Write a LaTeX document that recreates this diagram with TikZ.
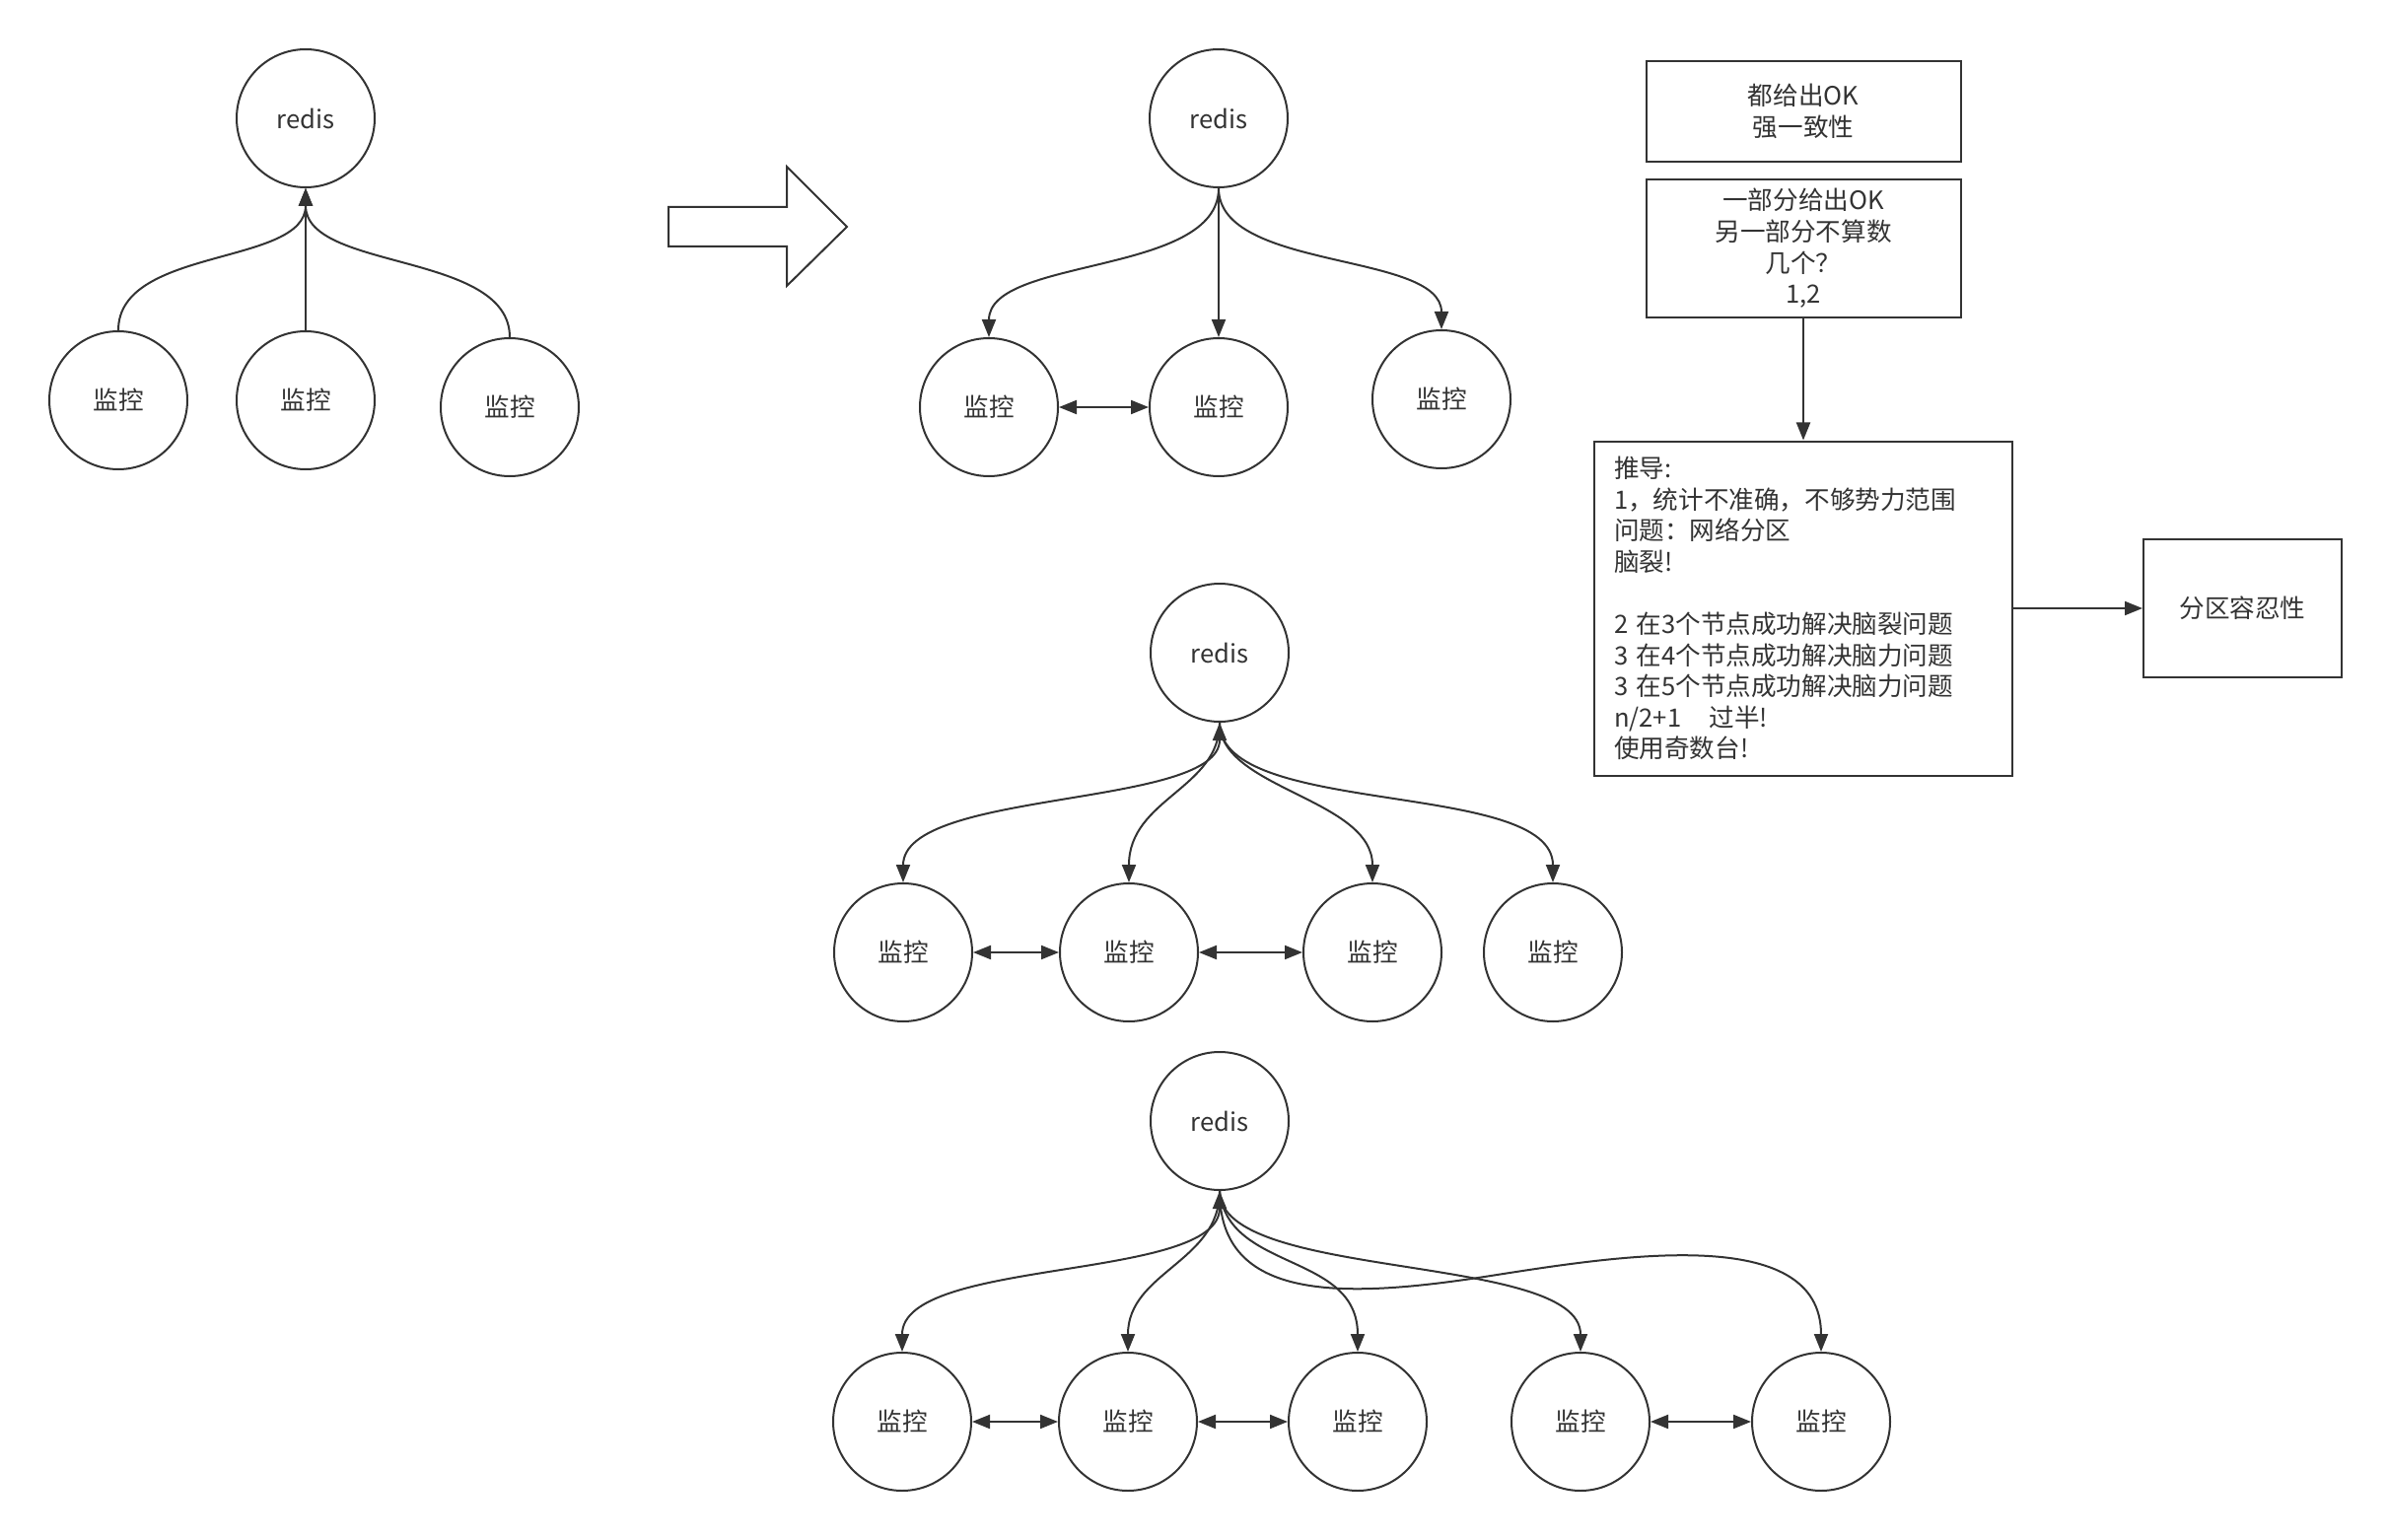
\documentclass[tikz,border=0pt]{standalone}
\usepackage{fontspec}
\setmainfont{Noto Sans CJK SC}
\usetikzlibrary{arrows.meta}
\definecolor{ink}{HTML}{333333}

\begin{document}
\begin{tikzpicture}[x=0.5pt,y=-0.5pt,
  every node/.style={font=\fontsize{12.8pt}{15.8pt}\selectfont,text=ink},
  ball/.style={circle,draw=ink,line width=1pt,minimum size=70pt,inner sep=0pt},
  card/.style={rectangle,draw=ink,line width=1pt,align=center,inner sep=0pt},
  link/.style={draw=ink,line width=1pt,-{Triangle[length=9pt,width=7pt]}},
  twoway/.style={draw=ink,line width=1pt,{Triangle[length=9pt,width=7pt]}-{Triangle[length=9pt,width=7pt]}}]
 \useasboundingbox (0,0) rectangle (2422,1562);

 % first sketch
 \node[ball] (r1) at (310,120) {redis};
 \node[ball] (m1a) at (120,406) {监控};
 \node[ball] (m1b) at (310,406) {监控};
 \node[ball] (m1c) at (517,413) {监控};
 \draw[link] (m1a.north) .. controls (120,250) and (310,270) .. (r1.south);
 \draw[link] (m1b.north) -- (r1.south);
 \draw[link] (m1c.north) .. controls (517,255) and (310,275) .. (r1.south);

 \draw[draw=ink,line width=1pt,line join=miter] (678,210) -- (798,210) -- (798,169)
  -- (859,230) -- (798,290) -- (798,250) -- (678,250) -- cycle;

 % second sketch
 \node[ball] (r2) at (1236,120) {redis};
 \node[ball] (m2a) at (1003,413) {监控};
 \node[ball] (m2b) at (1236,413) {监控};
 \node[ball] (m2c) at (1462,405) {监控};
 \draw[link] (r2.south) .. controls (1236,280) and (1003,260) .. (m2a.north);
 \draw[link] (r2.south) -- (m2b.north);
 \draw[link] (r2.south) .. controls (1236,275) and (1462,255) .. (m2c.north);
 \draw[twoway] (m2a) -- (m2b);

 % notes
 \node[card,minimum width=159.5pt,minimum height=51.25pt] (n1) at (1829,113) {都给出OK\\强一致性};
 \node[card,minimum width=159.5pt,minimum height=70pt] (n2) at (1829,252) {一部分给出OK\\另一部分不算数\\几个？\\1,2};
 \node[card,minimum width=212pt,minimum height=169.5pt,align=left,text width=192pt,inner xsep=10pt] (n3) at (1829,617) {推导:\\
  1，统计不准确，不够势力范围\\
  问题：网络分区\\
  脑裂!\\[15.8pt]
  2 在3个节点成功解决脑裂问题\\
  3 在4个节点成功解决脑力问题\\
  3 在5个节点成功解决脑力问题\\
  n/2+1\hspace{1.1em}过半!\\
  使用奇数台!};
 \node[card,minimum width=100.5pt,minimum height=70pt] (n4) at (2274.5,617) {分区容忍性};
 \draw[link] (n2.south) -- (n3.north);
 \draw[link] (n3.east) -- (n4.west);

 % third sketch
 \node[ball] (r3) at (1237,662) {redis};
 \node[ball] (m3a) at (916,966) {监控};
 \node[ball] (m3b) at (1145,966) {监控};
 \node[ball] (m3c) at (1392,966) {监控};
 \node[ball] (m3d) at (1575,966) {监控};
 \draw[twoway] (r3.south) .. controls (1237,820) and (916,800) .. (m3a.north);
 \draw[link] (r3.south) .. controls (1237,800) and (1145,810) .. (m3b.north);
 \draw[link] (r3.south) .. controls (1237,800) and (1392,810) .. (m3c.north);
 \draw[link] (r3.south) .. controls (1237,830) and (1575,790) .. (m3d.north);
 \draw[twoway] (m3a) -- (m3b);
 \draw[twoway] (m3b) -- (m3c);

 % fourth sketch
 \node[ball] (r4) at (1237,1137) {redis};
 \node[ball] (m4a) at (915,1442) {监控};
 \node[ball] (m4b) at (1144,1442) {监控};
 \node[ball] (m4c) at (1377,1442) {监控};
 \node[ball] (m4d) at (1603,1442) {监控};
 \node[ball] (m4e) at (1847,1442) {监控};
 \coordinate (x4) at (1512,1294);
 \draw[twoway] (r4.south) .. controls (1237,1300) and (915,1275) .. (m4a.north);
 \draw[link] (r4.south) .. controls (1237,1280) and (1144,1290) .. (m4b.north);
 \draw[link] (r4.south) .. controls (1245,1290) and (1377,1270) .. (m4c.north);
 \draw[link] (r4.south) .. controls (1237,1300) and (1603,1270) .. (m4d.north);
 \draw[link] (r4.south) .. controls (1237,1320) and (1360,1318) .. (x4)
  .. controls (1640,1274) and (1847,1240) .. (m4e.north);
 \draw[twoway] (m4a) -- (m4b);
 \draw[twoway] (m4b) -- (m4c);
 \draw[twoway] (m4d) -- (m4e);

\end{tikzpicture}
\end{document}
